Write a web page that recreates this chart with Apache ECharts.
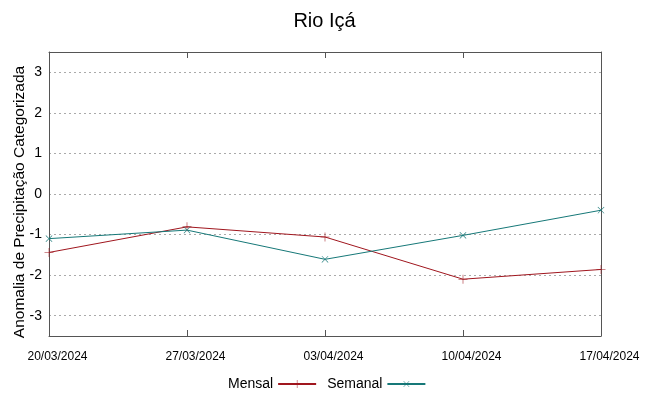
<!DOCTYPE html>
<html>
<head>
<meta charset="utf-8">
<script src="https://cdn.jsdelivr.net/npm/echarts@6/dist/echarts.min.js"></script>
<style>html,body{margin:0;padding:0;background:#fff}#c{width:649px;height:396px}</style>
</head>
<body>
<div id="c"></div>
<script>
const categories = ['20/03/2024', '27/03/2024', '03/04/2024', '10/04/2024', '17/04/2024'];
const mensal = [-1.44, -0.81, -1.06, -2.10, -1.86];
const semanal = [-1.10, -0.89, -1.61, -1.02, -0.40];
const yTicks = [-3, -2, -1, 0, 1, 2, 3];

const FONT = 'Liberation Sans';
const plus = 'path://M-0.6,-10h1.2v20h-1.2zM-10,-0.6h20v1.2h-20z';
const chart = echarts.init(document.getElementById('c'), null, {renderer: 'canvas'});
chart.setOption({
  animation: false,
  backgroundColor: '#fff',
  title: {text: 'Rio Içá', left: 'center', top: 6, textStyle: {fontFamily: FONT, fontSize: 20, fontWeight: 'normal', color: '#000'}},
  legend: {
    bottom: 0, left: 223, align: 'right', itemWidth: 38, itemHeight: 10, itemGap: 10,
    textStyle: {fontFamily: FONT, fontSize: 14, color: '#000'},
    data: ['Mensal', 'Semanal']
  },
  grid: {left: 49, right: 48, top: 52, bottom: 60, outerBoundsMode: 'none', containLabel: false},
  xAxis: [{
    type: 'category', data: categories, boundaryGap: false,
    axisLine: {onZero: false, lineStyle: {color: '#555', width: 1}},
    axisTick: {inside: true, length: 6, lineStyle: {color: '#555'}},
    axisLabel: {fontFamily: FONT, fontSize: 12, color: '#000', margin: 15, padding: [0, 0, 0, 17]},
    splitLine: {show: false}
  }, {
    type: 'category', data: categories, boundaryGap: false, position: 'top',
    axisLine: {onZero: false, lineStyle: {color: '#555', width: 1}},
    axisTick: {inside: true, length: 6, lineStyle: {color: '#555'}},
    axisLabel: {show: false}, splitLine: {show: false}
  }],
  yAxis: [{
    type: 'value', min: -3.5, max: 3.5,
    name: 'Anomalia de Precipitação Categorizada', nameLocation: 'middle', nameGap: 21, nameRotate: 90, nameMoveOverlap: false,
    nameTextStyle: {fontFamily: FONT, fontSize: 15.5, color: '#000', padding: [0, 16, 0, 0]},
    axisLine: {show: true, onZero: false, lineStyle: {color: '#555'}},
    axisTick: {inside: true, length: 6, customValues: yTicks, lineStyle: {color: '#555'}},
    axisLabel: {fontFamily: FONT, fontSize: 14, color: '#000', margin: 7, customValues: yTicks},
    splitLine: {show: true, lineStyle: {color: '#aaa', type: [2, 3], width: 1}}
  }, {
    type: 'value', min: -3.5, max: 3.5, position: 'right',
    axisLine: {show: true, onZero: false, lineStyle: {color: '#555'}},
    axisTick: {inside: true, length: 6, customValues: yTicks, lineStyle: {color: '#555'}},
    axisLabel: {show: false}, splitLine: {show: false}
  }],
  series: [{
    name: 'Mensal', type: 'line', data: mensal, color: '#a0161e',
    symbol: plus, symbolSize: 9, showSymbol: true,
    lineStyle: {width: 1, color: '#a0161e'}, itemStyle: {color: '#a0161e'}
  }, {
    name: 'Semanal', type: 'line', data: semanal, color: '#167878',
    symbol: plus, symbolSize: 9, symbolRotate: 45, showSymbol: true,
    lineStyle: {width: 1, color: '#167878'}, itemStyle: {color: '#167878'}
  }]
});
</script>
</body>
</html>
